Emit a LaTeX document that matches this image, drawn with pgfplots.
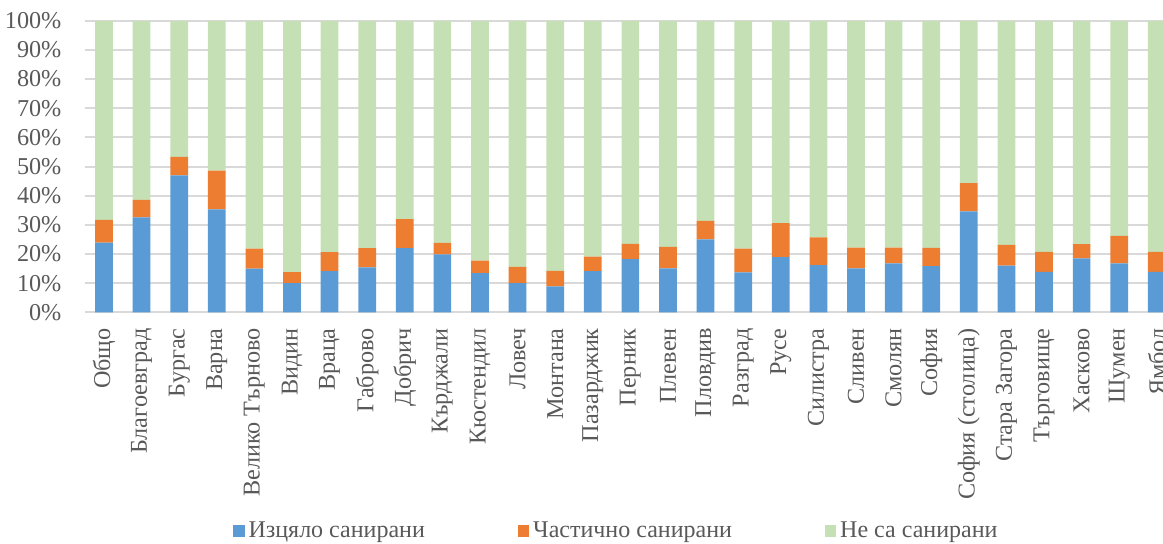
\documentclass[border=0pt]{standalone}
\usepackage{fontspec}
\setmainfont{Liberation Serif}
\usepackage{pgfplots}
\usepackage{pgfplotstable}
\pgfplotsset{compat=1.18}
\definecolor{cblue}{HTML}{5B9BD5}
\definecolor{corange}{HTML}{ED7D31}
\definecolor{cgreen}{HTML}{C5E0B4}
\definecolor{cgrid}{HTML}{D9D9D9}
\definecolor{ctext}{HTML}{595959}
\pgfplotstableread{
x b o g
0 23.9 7.8 68.3
1 32.6 6.0 61.4
2 47.0 6.3 46.7
3 35.3 13.3 51.4
4 15.0 6.8 78.2
5 10.0 3.8 86.2
6 14.1 6.5 79.4
7 15.4 6.6 78.0
8 22.0 10.0 68.0
9 19.9 3.9 76.2
10 13.4 4.3 82.3
11 10.0 5.6 84.4
12 8.9 5.3 85.8
13 14.1 5.0 80.9
14 18.2 5.3 76.5
15 15.1 7.3 77.6
16 25.0 6.4 68.6
17 13.7 8.1 78.2
18 18.9 11.7 69.4
19 16.2 9.5 74.3
20 15.1 7.1 77.8
21 16.8 5.4 77.8
22 15.8 6.3 77.9
23 34.6 9.7 55.7
24 16.0 7.1 76.9
25 13.9 6.8 79.3
26 18.5 4.9 76.6
27 16.8 9.4 73.8
28 13.9 6.8 79.3
}\data
\begin{document}
\begin{tikzpicture}
\begin{axis}[
  at={(0,0)}, anchor=south west,
  scale only axis, width=545.2pt, height=145.75pt,
  ybar stacked, bar width=8.85pt,
  xmin=-0.5, xmax=28.5, ymin=0, ymax=100,
  axis x line*=bottom, axis y line*=left,
  x axis line style={cgrid, line width=1.2pt},
  y axis line style={draw=none},
  ymajorgrids, grid style={cgrid, line width=1pt},
  major tick length=0pt,
  xtick={0,...,28},
  xticklabels={Общо,Благоевград,Бургас,Варна,Велико Търново,Видин,Враца,Габрово,Добрич,Кърджали,Кюстендил,Ловеч,Монтана,Пазарджик,Перник,Плевен,Пловдив,Разград,Русе,Силистра,Сливен,Смолян,София,София (столица),Стара Загора,Търговище,Хасково,Шумен,Ямбол},
  ytick={0,10,...,100},
  yticklabels={0\%,10\%,20\%,30\%,40\%,50\%,60\%,70\%,80\%,90\%,100\%},
  tick label style={font=\fontsize{12.1}{13}\selectfont, text=ctext},
  xticklabel style={rotate=90, anchor=east, inner sep=0pt, xshift=-7.8pt},
  yticklabel style={anchor=east, inner sep=0pt, xshift=-11.7pt},
  legend columns=3,
  legend style={at={(axis description cs:0.1358,-0.7503)}, anchor=west,
    draw=none, fill=none, inner sep=0pt, outer sep=0pt,
    font=\fontsize{12}{13}\selectfont, text=ctext,
    nodes={inner sep=1.5pt},
    /tikz/every odd column/.append style={column sep=0.5pt},
    /tikz/every even column/.append style={column sep=45pt}},
  legend image code/.code={\fill[#1] (0pt,-2.83pt) rectangle (5.65pt,2.83pt);},
]
\addplot[fill=cblue, draw=none] table[x=x,y=b]{\data};
\addlegendentry{Изцяло санирани}
\addplot[fill=corange, draw=none] table[x=x,y=o]{\data};
\addlegendentry{Частично санирани}
\addplot[fill=cgreen, draw=none] table[x=x,y=g]{\data};
\addlegendentry{Не са санирани}
\end{axis}
\pgfresetboundingbox
\path[use as bounding box] (-42.6pt,-115.85pt) rectangle (538.9pt,156.15pt);
\end{tikzpicture}
\end{document}
